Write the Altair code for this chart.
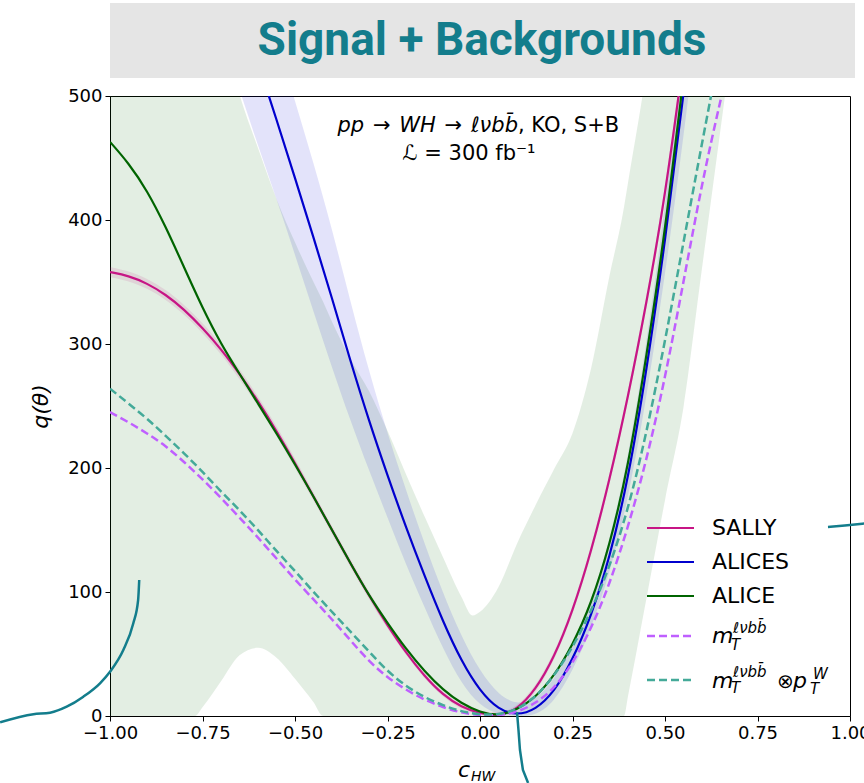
import altair as alt
import pandas as pd

# ---------------- data ----------------
c_grid = [-1.0, -0.95, -0.9, -0.85, -0.8, -0.75, -0.7, -0.65, -0.6, -0.55,
          -0.5, -0.45, -0.4, -0.35, -0.3, -0.25, -0.2, -0.15, -0.1, -0.05,
          0.0, 0.05, 0.1, 0.15, 0.2, 0.25, 0.3, 0.35, 0.4, 0.45,
          0.5, 0.55, 0.6, 0.65, 0.7]
N = None
sally = [358, 355, 349, 340, 328, 313, 296, 276, 254, 230,
         204, 177, 150, 123, 97, 73, 51, 32, 17, 7,
         2, 0, 5, 21, 47, 84, 132, 190, 257, 333,
         418, 530, N, N, N]
sally_lo = [354, 351, 345, 336, 324, 309, 292, 272, 250, 226,
            200, 174, 147, 120, 94, 70, 49, 30, 15, 5,
            0, 0, 3, 18, 44, 81, 128, 186, 253, 328,
            412, 523, N, N, N]
sally_hi = [362, 359, 353, 344, 332, 317, 300, 280, 258, 234,
            208, 180, 153, 126, 100, 76, 53, 34, 19, 9,
            4, 2, 7, 24, 50, 87, 136, 194, 261, 338,
            424, 537, N, N, N]
alices = [N, N, N, N, N, N, N, N, 527, 481,
          434, 386, 337, 286, 238, 194, 152, 113, 76, 44,
          20, 5, 0.5, 5, 19, 45, 80, 127, 190, 278,
          382, 500, 630, N, N]
alices_lo = [N, N, N, N, N, N, N, 505, 460, 417,
             372, 326, 281, 238, 198, 160, 122, 88, 54, 26,
             8, 1, 0, 0, 11, 36, 70, 114, 174, 256,
             355, 466, 590, N, N]
alices_hi = [N, N, N, N, N, N, N, 640, 594, 546,
             496, 446, 393, 334, 278, 228, 182, 139, 99, 64,
             36, 17, 9, 13, 29, 55, 91, 141, 207, 300,
             410, 535, 670, N, N]
alice = [463, 446, 424, 395, 362, 329, 300, 276, 252, 228,
         203, 177, 150, 123, 97, 75, 54, 36, 21, 10,
         3, 0, 5, 15, 32, 57, 90, 137, 200, 290,
         390, 515, N, N, N]
mt = [245, 237, 228, 218, 205, 191, 176, 160, 144, 127,
      110, 94, 78, 61, 44, 31, 21, 13, 7, 2.5,
      0.5, 0.3, 3, 10, 22, 42, 70, 106, 152, 206,
      272, 350, 430, 497, 560]
mt_ptw = [264, 252, 240, 226, 212, 197, 181, 166, 150, 133,
          117, 100, 84, 68, 52, 36, 24, 15, 8.5, 3.5,
          1, 1, 5, 15, 32, 55, 84, 120, 166, 228,
          302, 382, 462, 540, N]

# wide ALICE band
band_c = [-1.0, -0.9, -0.8, -0.77, -0.75, -0.7, -0.65, -0.6, -0.55, -0.5,
          -0.45, -0.424, -0.4, -0.35, -0.3, -0.25, -0.2, -0.15, -0.1, -0.05,
          -0.02, 0.0, 0.05, 0.1, 0.15, 0.2, 0.25, 0.3, 0.35, 0.389,
          0.4, 0.45, 0.5, 0.55, 0.6, 0.65, 0.7]
band_lo = [0, 0, 0, 0, 7, 28, 49, 55, 47, 30,
           11, 0, 0, 0, 0, 0, 0, 0, 0, 0,
           0, 0, 0, 0, 0, 0, 0, 0, 0, 0,
           16, 95, 174, 249, 361, 473, 585]
band_hi = [700, 700, 650, 630, 615, 555, 501, 458, 417, 382,
           350, 334, 318, 288, 262, 230, 195, 161, 128, 96,
           81, 84, 104, 139, 170, 199, 228, 280, 355, 410,
           430, 522, 640, 760, 880, 1000, 1100]

# decorative slide strokes
deco1_c = [-1.297, -1.207, -1.162, -1.117, -1.072, -1.027, -1.0, -0.964, -0.937, -0.924, -0.921]
deco1_q = [-5.1, 1.4, 2.7, 7.5, 15.6, 26.4, 35.7, 53.2, 74.8, 93.5, 109.7]
deco2_c = [0.9405, 0.986, 1.038]
deco2_q = [152.4, 153.6, 155.2]
deco3_c = [0.1, 0.104, 0.108, 0.116, 0.13]
deco3_q = [3.2, -11.3, -27.4, -43.5, -54]

x_ticks = [-1.0, -0.75, -0.5, -0.25, 0.0, 0.25, 0.5, 0.75, 1.0]
y_ticks = [0, 100, 200, 300, 400, 500]

series_names = ["SALLY", "ALICES", "ALICE"]

# ---------------- styles ----------------
C_SALLY = "#c71585"
C_ALICES = "#0000cd"
C_ALICE = "#006400"
C_MT = "#bf5fff"
C_MTP = "#44aa99"
C_DECO = "#137d8c"
FONT = "DejaVu Sans"

xs = alt.Scale(domain=[-1, 1], nice=False, zero=False)
ys = alt.Scale(domain=[0, 500], nice=False, zero=False)
X_AX = alt.Axis(values=x_ticks, format=".2f", title=None, tickSize=5,
                labelPadding=3, labelFontSize=18, labelFlush=False, grid=False)
Y_AX = alt.Axis(values=y_ticks, format="d", title="q(θ)", tickSize=5,
                labelPadding=3, labelFontSize=18, grid=False,
                titleFontStyle="italic", titleFontSize=22, titleFontWeight="normal",
                titlePadding=15)


def X(f):
    return alt.X(f, type="quantitative", scale=xs, axis=X_AX)


def Y(f):
    return alt.Y(f, type="quantitative", scale=ys, axis=Y_AX)


def frame(cs, **cols):
    df = pd.DataFrame({"c": cs, **cols})
    return df.dropna().reset_index(drop=True)


def band(cs, lo, hi, color, op, interp="basis"):
    return alt.Chart(frame(cs, lo=lo, hi=hi)).mark_area(
        color=color, opacity=op, clip=True, interpolate=interp
    ).encode(x=X("c"), y=Y("lo"), y2=alt.Y2("hi"))


def line(cs, vals, color, width=2.2, dash=None, clip=True, interp="basis"):
    kw = dict(color=color, strokeWidth=width, clip=clip, interpolate=interp)
    if dash:
        kw["strokeDash"] = dash
    return alt.Chart(frame(cs, q=vals)).mark_line(**kw).encode(x=X("c"), y=Y("q"))


def txt(s, x, y, size, style="normal", weight="normal", align="left",
        baseline="alphabetic", color="black", font=FONT):
    return alt.Chart(pd.DataFrame({"t": [s]})).mark_text(
        align=align, baseline=baseline, fontSize=size, fontStyle=style,
        fontWeight=weight, color=color, font=font
    ).encode(x=alt.value(x), y=alt.value(y), text="t:N")


def legrule(y, color, dash=None, width=2.2):
    kw = dict(color=color, strokeWidth=width)
    if dash:
        kw["strokeDash"] = dash
    return alt.Chart(pd.DataFrame({"a": [0]})).mark_rule(**kw).encode(
        x=alt.value(537), x2=alt.value(584), y=alt.value(y))


DASH = [8, 4]
SP = " \u200a"

layers = [
    alt.Chart(pd.DataFrame({"a": [0]})).mark_rect(color="#e5e5e5").encode(
        x=alt.value(0), x2=alt.value(745), y=alt.value(-93), y2=alt.value(-18)),
    txt("Signal + Backgrounds", 372, -41, 46, weight="bold", align="center",
        color=C_DECO, font="Roboto"),
    band(band_c, band_lo, band_hi, C_ALICE, 0.11, interp="monotone"),
    band(c_grid, alices_lo, alices_hi, C_ALICES, 0.11),
    band(c_grid, sally_lo, sally_hi, C_SALLY, 0.12),
    line(c_grid, sally, C_SALLY),
    line(c_grid, alices, C_ALICES),
    line(c_grid, alice, C_ALICE),
    line(c_grid, mt, C_MT, width=2.5, dash=DASH),
    line(c_grid, mt_ptw, C_MTP, width=2.5, dash=DASH),
    # in-plot annotation
    txt("pp" + SP + "→" + SP + "WH" + SP + "→" + SP + "ℓνbb̄", 408, 36, 21,
        style="italic", align="right"),
    txt(", KO, S+B", 408, 36, 21),
    txt("ℒ = 300 fb⁻¹", 359, 64, 21, align="center"),
    # legend
    legrule(432, C_SALLY), txt(series_names[0], 602, 432, 22, baseline="middle"),
    legrule(466, C_ALICES), txt(series_names[1], 602, 466, 22, baseline="middle"),
    legrule(500, C_ALICE), txt(series_names[2], 602, 500, 22, baseline="middle"),
    legrule(540, C_MT, DASH, 2.5),
    txt("m", 602, 547, 22, style="italic"),
    txt("ℓνbb̄", 623, 537, 15, style="italic"),
    txt("T", 621, 554, 15, style="italic"),
    legrule(584, C_MTP, DASH, 2.5),
    txt("m", 602, 592, 22, style="italic"),
    txt("ℓνbb̄", 623, 581, 15, style="italic"),
    txt("T", 621, 597, 15, style="italic"),
    txt("⊗", 667, 592, 20),
    txt("p", 683, 592, 22, style="italic"),
    txt("W", 703, 583, 15, style="italic"),
    txt("T", 700, 598, 15, style="italic"),
    # x-axis title c_HW
    txt("c", 348, 681, 22, style="italic"),
    txt("HW", 361, 685, 14, style="italic"),
    # decorative strokes
    line(deco1_c, deco1_q, C_DECO, width=2.5, clip=False, interp="monotone"),
    line(deco2_c, deco2_q, C_DECO, width=2.5, clip=False, interp="monotone"),
    line(deco3_c, deco3_q, C_DECO, width=2.5, clip=False, interp="linear"),
]

chart = alt.layer(*layers).properties(
    width=740, height=620,
    autosize=alt.AutoSizeParams(type="none"),
    padding={"left": 110, "top": 96, "right": 14, "bottom": 67},
    background="white",
).configure_view(stroke="black", strokeWidth=1).configure_axis(
    domainColor="black", tickColor="black", labelColor="black",
    titleColor="black", labelFont=FONT, titleFont=FONT, domainWidth=1, tickWidth=1,
)

chart.save("out.html", embed_options={"renderer": "svg", "actions": False})
